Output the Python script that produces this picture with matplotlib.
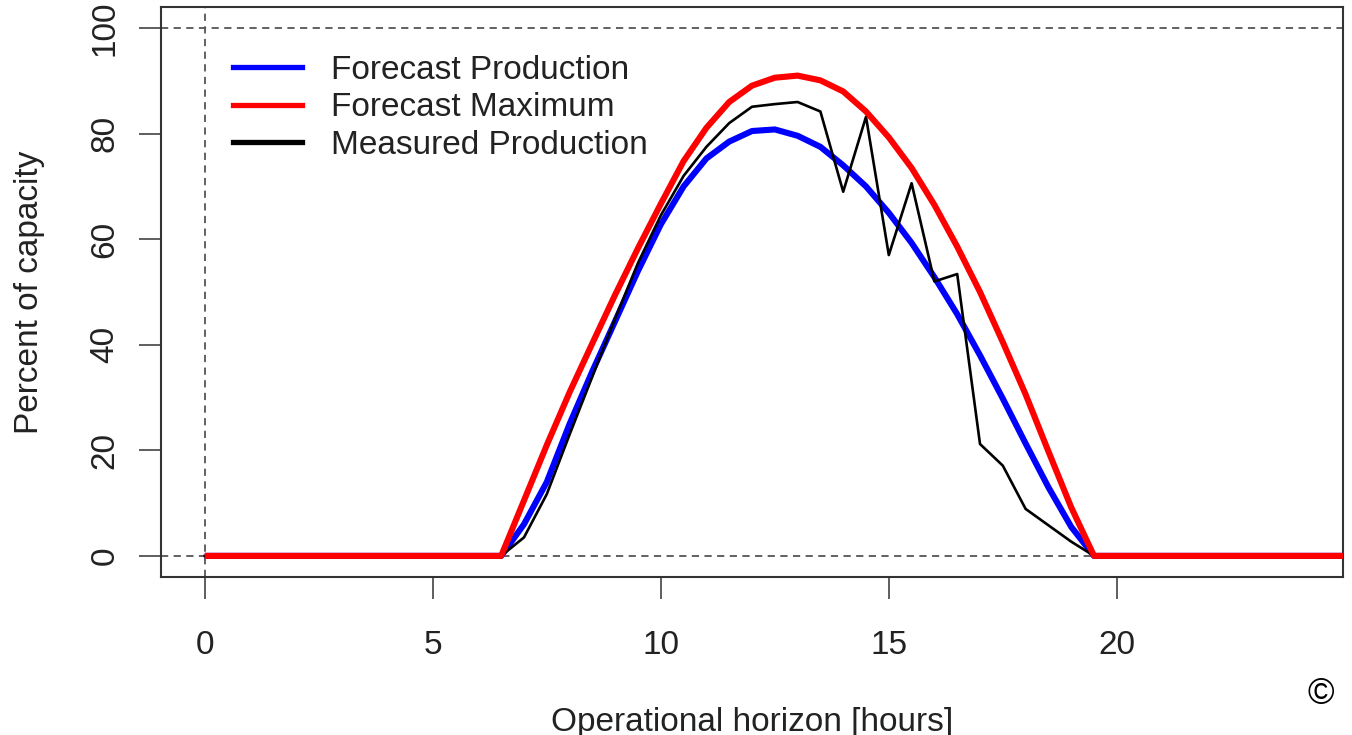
import numpy as np
import matplotlib
matplotlib.use("Agg")
import matplotlib.pyplot as plt

plt.rcParams['font.family'] = ['Liberation Sans', 'DejaVu Sans']

# half-hour steps over the horizon; night hours are zero
hours = np.arange(0, 25.5, 0.5)
night_am = [0] * 13   # 0.0 .. 6.0
night_pm = [0] * 11   # 20.0 .. 25.0

# daytime values 6.5 .. 19.5 (percent of capacity)
forecast_prod_day = [0, 6, 14, 25, 35, 44.5, 54, 62.8, 70, 75.3, 78.5, 80.5, 80.8,
                     79.6, 77.5, 74, 70, 65, 59.3, 52.8, 45.8, 38, 29.8, 21.3, 13,
                     5.5, 0]
forecast_max_day = [0, 10.5, 21, 31, 40.3, 49.5, 58.3, 66.7, 74.8, 81.1, 86, 89.1,
                    90.6, 91, 90.1, 88, 84.2, 79.3, 73.5, 66.5, 58.6, 50, 40.5,
                    30.6, 19.8, 9.2, 0]
measured_day = [0, 3.5, 11.7, 23, 34, 45, 55.5, 64.5, 72, 77.5, 82, 85.1, 85.6, 86,
                84.2, 69, 83.2, 57, 70.6, 52, 53.4, 21.2, 17.1, 8.9, 5.8, 2.7, 0]

forecast_prod = night_am + forecast_prod_day + night_pm
forecast_max = night_am + forecast_max_day + night_pm
measured = night_am + measured_day + night_pm

FS = 24

fig = plt.figure(figsize=(13.52, 7.35), dpi=100)
ax = fig.add_axes([161 / 1352, 1 - 577 / 735, (1343 - 161) / 1352, (577 - 7) / 735])

# reference lines
dash = dict(color='#555555', lw=1.3, ls=(0, (4, 3)), zorder=1)
ax.axhline(0, **dash)
ax.axhline(100, **dash)
ax.axvline(0, **dash)

ax.plot(hours, forecast_prod, color='#0000ff', lw=4.4, solid_capstyle='butt', zorder=2)
ax.plot(hours, measured, color='black', lw=1.9, zorder=3)
ax.plot(hours, forecast_max, color='#ff0000', lw=4.4, solid_capstyle='butt', zorder=4)

ax.set_xlim(-0.96, 24.96)
ax.set_ylim(-4, 104)
ax.set_xticks([0, 5, 10, 15, 20])
ax.set_yticks([0, 20, 40, 60, 80, 100])
ax.tick_params(axis='both', direction='out', length=16, width=1.1, color='#333333',
               labelsize=FS, labelcolor='#222222')
ax.tick_params(axis='x', pad=22)
ax.tick_params(axis='y', pad=13)
for lab in ax.get_yticklabels():
    lab.set_rotation(90)
    lab.set_va('center')
for sp in ax.spines.values():
    sp.set_color('#333333')
    sp.set_linewidth(1.5)

ax.set_xlabel('Operational horizon [hours]', fontsize=FS, color='#222222', labelpad=33)
ax.set_ylabel('Percent of capacity', fontsize=FS, color='#222222', labelpad=32)

# legend drawn without frame, like R's legend(bty="n")
handles = [
    plt.Line2D([], [], color='#0000ff', lw=3.8),
    plt.Line2D([], [], color='#ff0000', lw=3.8),
    plt.Line2D([], [], color='black', lw=3.8),
]
labels = ['Forecast Production', 'Forecast Maximum', 'Measured Production']
ax.legend(handles, labels, loc='upper left', bbox_to_anchor=(0.0355, 0.969),
          frameon=False, fontsize=FS, handlelength=2.07, handletextpad=0.87,
          labelspacing=0.2, labelcolor='#222222')

fig.text(1308 / 1352, 1 - 695 / 735, '\u00a9', fontsize=26, va='center', ha='left',
         color='black')

fig.savefig('out.png', dpi=100)
